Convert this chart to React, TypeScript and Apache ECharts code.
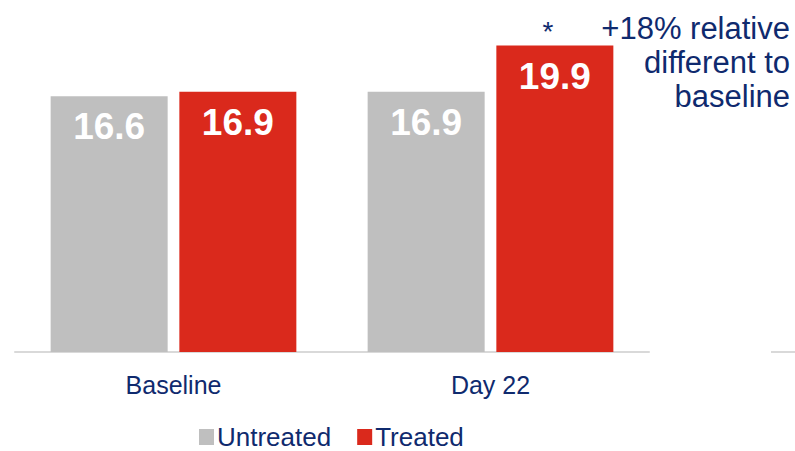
import React, { useEffect, useRef } from "react";
import * as echarts from "echarts";

const categories = ["Baseline", "Day 22"];
const untreated = [16.6, 16.9];
const treated = [16.9, 19.9];
const seriesNames = ["Untreated", "Treated"];
const annotationLines = ["+18% relative", "different to", "baseline"];

const NAVY = "#0f2a6e";
const FONT = "'Liberation Sans', Arial, sans-serif";

export default function App() {
  const ref = useRef<HTMLDivElement>(null);
  useEffect(() => {
    if (!ref.current) return;
    const chart = echarts.init(ref.current, undefined, { renderer: "svg" });
    const label = {
      show: true,
      position: "insideTop",
      distance: 12,
      color: "#ffffff",
      fontSize: 37,
      fontWeight: "bold",
      fontFamily: FONT,
      formatter: (p: any) => p.value.toFixed(1),
    };
    chart.setOption({
      animation: false,
      textStyle: { fontFamily: FONT },
      grid: { left: 15, width: 634, top: 44, height: 308 },
      xAxis: {
        type: "category",
        data: categories,
        axisLine: { show: true, lineStyle: { color: "#d9d9d9", width: 2 } },
        axisTick: { show: false },
        axisLabel: { color: NAVY, fontSize: 25, margin: 20, fontFamily: FONT },
      },
      yAxis: {
        type: "value",
        min: 0,
        max: 20,
        show: false,
        splitLine: { show: false },
      },
      legend: {
        top: 424,
        left: 199,
        padding: 0,
        itemWidth: 15,
        itemHeight: 16,
        itemGap: 26,
        icon: "rect",
        textStyle: {
          color: NAVY,
          fontSize: 26,
          lineHeight: 26,
          fontFamily: FONT,
          padding: [0, 0, 0, -2],
        },
        data: seriesNames,
      },
      series: [
        {
          name: seriesNames[0],
          type: "bar",
          data: untreated,
          barWidth: 117,
          barGap: "10%",
          itemStyle: { color: "#bfbfbf" },
          label,
        },
        {
          name: seriesNames[1],
          type: "bar",
          data: treated,
          barWidth: 117,
          itemStyle: { color: "#da291c" },
          label,
        },
      ],
      graphic: [
        {
          type: "line",
          shape: { x1: 771, y1: 352, x2: 795, y2: 352 },
          style: { stroke: "#d9d9d9", lineWidth: 2 },
        },
        {
          type: "text",
          x: 548,
          y: 31,
          style: {
            text: "*",
            fill: NAVY,
            font: `28px ${FONT}`,
            textAlign: "center",
            textVerticalAlign: "middle",
          },
        },
        {
          type: "text",
          right: 5,
          top: 11,
          style: {
            text: annotationLines.join("\n"),
            fill: NAVY,
            font: `31px ${FONT}`,
            lineHeight: 34,
            textAlign: "right",
          },
        },
      ],
    });
    return () => chart.dispose();
  }, []);
  return <div ref={ref} style={{ width: 795, height: 451, position: "absolute", left: 0, top: 0 }} />;
}
